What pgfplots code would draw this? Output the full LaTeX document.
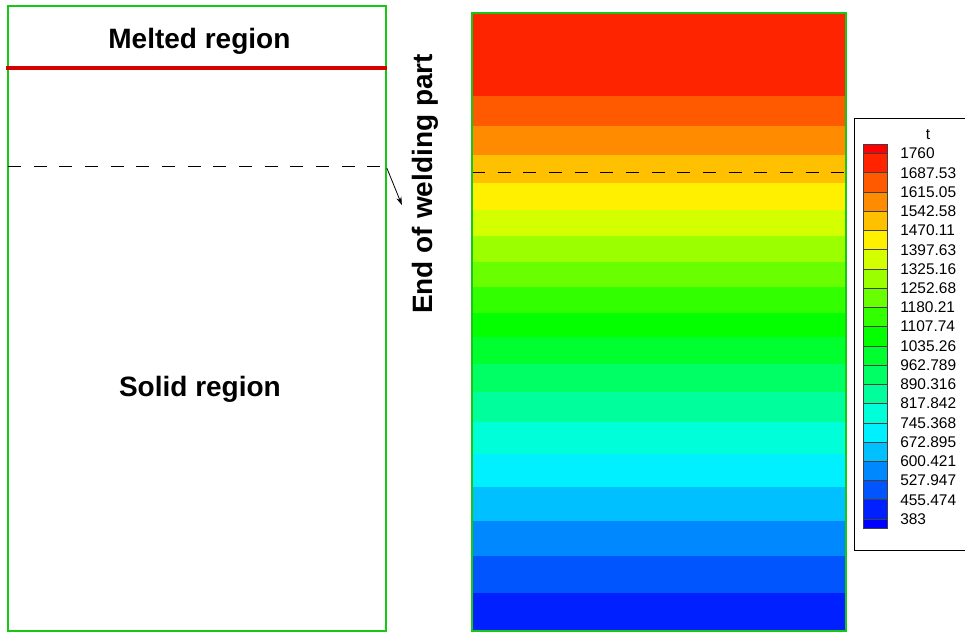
\documentclass[border=0pt]{standalone}
\usepackage{fontspec}
\setmainfont{Liberation Sans}
\usepackage{pgfplots}
\pgfplotsset{compat=1.18}
\usetikzlibrary{arrows.meta}
\definecolor{pgreen}{RGB}{20,200,20}
\definecolor{mred}{RGB}{214,0,0}
\begin{document}
\begin{tikzpicture}
\useasboundingbox (0pt,0pt) rectangle (723.75pt,-474.75pt);
% ---------------- left schematic panel ----------------
\begin{axis}[at={(6pt,-473.25pt)}, anchor=south west, scale only axis,
  width=283.4pt, height=469pt, xmin=0, xmax=1, ymin=0, ymax=1,
  xtick=\empty, ytick=\empty,
  axis line style={draw=none}, clip=false]
\draw[pgreen, line width=1.5pt] (rel axis cs:0,0) rectangle (rel axis cs:1,1);
\addplot[mred, line width=3pt] coordinates {(-0.004,0.9004) (1.004,0.9004)};
\addplot[black, line width=0.9pt, dash pattern=on 9.75pt off 9.5pt] coordinates {(0,0.7425) (1,0.7425)};
\draw[-{Stealth[length=6pt,width=4pt]}, line width=0.6pt] (axis cs:1.0026,0.7404) -- (axis cs:1.0423,0.6813);
\node[font=\fontsize{21pt}{25pt}\selectfont\bfseries, anchor=base, inner sep=0pt] at (axis cs:0.5066,0.9308) {Melted region};
\node[font=\fontsize{21pt}{25pt}\selectfont\bfseries, anchor=base, inner sep=0pt] at (axis cs:0.508,0.3747) {Solid region};
\node[font=\fontsize{21pt}{25pt}\selectfont\bfseries, rotate=90, anchor=base, inner sep=0pt] at (axis cs:1.1237,0.7149) {End of welding part};
\end{axis}
% ---------------- right contour panel ----------------
\begin{axis}[at={(354pt,-473.25pt)}, anchor=south west, scale only axis,
  width=280.2pt, height=463.7pt, xmin=0, xmax=1, ymin=0, ymax=618.3,
  xtick=\empty, ytick=\empty,
  axis line style={draw=none}, clip=false]
\addplot[fill={rgb,255:red,255;green,36;blue,0}, draw=none] coordinates {(0,618.3) (1,618.3)} \closedcycle;
\addplot[fill={rgb,255:red,255;green,90;blue,0}, draw=none] coordinates {(0,535) (1,535)} \closedcycle;
\addplot[fill={rgb,255:red,255;green,140;blue,0}, draw=none] coordinates {(0,505) (1,505)} \closedcycle;
\addplot[fill={rgb,255:red,255;green,192;blue,0}, draw=none] coordinates {(0,476) (1,476)} \closedcycle;
\addplot[fill={rgb,255:red,255;green,240;blue,0}, draw=none] coordinates {(0,448) (1,448)} \closedcycle;
\addplot[fill={rgb,255:red,212;green,255;blue,0}, draw=none] coordinates {(0,421) (1,421)} \closedcycle;
\addplot[fill={rgb,255:red,156;green,255;blue,0}, draw=none] coordinates {(0,395) (1,395)} \closedcycle;
\addplot[fill={rgb,255:red,106;green,255;blue,0}, draw=none] coordinates {(0,369) (1,369)} \closedcycle;
\addplot[fill={rgb,255:red,50;green,255;blue,0}, draw=none] coordinates {(0,344) (1,344)} \closedcycle;
\addplot[fill={rgb,255:red,4;green,255;blue,0}, draw=none] coordinates {(0,318) (1,318)} \closedcycle;
\addplot[fill={rgb,255:red,0;green,255;blue,46}, draw=none] coordinates {(0,294) (1,294)} \closedcycle;
\addplot[fill={rgb,255:red,0;green,255;blue,100}, draw=none] coordinates {(0,267) (1,267)} \closedcycle;
\addplot[fill={rgb,255:red,0;green,255;blue,156}, draw=none] coordinates {(0,239) (1,239)} \closedcycle;
\addplot[fill={rgb,255:red,0;green,255;blue,216}, draw=none] coordinates {(0,209) (1,209)} \closedcycle;
\addplot[fill={rgb,255:red,0;green,240;blue,255}, draw=none] coordinates {(0,177) (1,177)} \closedcycle;
\addplot[fill={rgb,255:red,0;green,192;blue,255}, draw=none] coordinates {(0,144) (1,144)} \closedcycle;
\addplot[fill={rgb,255:red,0;green,136;blue,255}, draw=none] coordinates {(0,110) (1,110)} \closedcycle;
\addplot[fill={rgb,255:red,0;green,85;blue,255}, draw=none] coordinates {(0,75) (1,75)} \closedcycle;
\addplot[fill={rgb,255:red,0;green,32;blue,255}, draw=none] coordinates {(0,38) (1,38)} \closedcycle;
\addplot[black, line width=0.9pt, dash pattern=on 9.75pt off 9.5pt] coordinates {(0,458.3) (1,458.3)};
\draw[pgreen, line width=1.4pt] (rel axis cs:0,0) rectangle (rel axis cs:1,1);
\end{axis}
% ---------------- colour legend ----------------
\draw[black, line width=0.6pt] (730pt,-88.7pt) -- (640.7pt,-88.7pt) -- (640.7pt,-412.5pt) -- (730pt,-412.5pt);
\node[font=\fontsize{11.6pt}{13pt}\selectfont] at (696pt,-101.25pt) {t};
\begin{axis}[at={(647.5pt,-396pt)}, anchor=south west, scale only axis,
  width=18pt, height=288pt, xmin=0, xmax=1, ymin=0, ymax=384,
  xtick=\empty, major tick length=0pt, tick style={draw=none},
  axis line style={draw=black!75, line width=0.5pt}, axis on top,
  yticklabel pos=right,
  ytick={374.5,355.26,336.02,316.78,297.54,278.3,259.06,239.82,220.58,201.34,182.1,162.86,143.62,124.38,105.14,85.9,66.66,47.42,28.18,8.94},
  yticklabels={1760,1687.53,1615.05,1542.58,1470.11,1397.63,1325.16,1252.68,1180.21,1107.74,1035.26,962.789,890.316,817.842,745.368,672.895,600.421,527.947,455.474,383},
  yticklabel style={anchor=west, inner xsep=0pt, xshift=9.5pt, font=\fontsize{11.6pt}{13pt}\selectfont}]
\addplot[fill={rgb,255:red,255;green,0;blue,0}, draw=black!75, line width=0.5pt] coordinates {(0,384) (1,384)} \closedcycle;
\addplot[fill={rgb,255:red,255;green,36;blue,0}, draw=black!75, line width=0.5pt] coordinates {(0,374.5) (1,374.5)} \closedcycle;
\addplot[fill={rgb,255:red,255;green,90;blue,0}, draw=black!75, line width=0.5pt] coordinates {(0,355.26) (1,355.26)} \closedcycle;
\addplot[fill={rgb,255:red,255;green,140;blue,0}, draw=black!75, line width=0.5pt] coordinates {(0,336.02) (1,336.02)} \closedcycle;
\addplot[fill={rgb,255:red,255;green,192;blue,0}, draw=black!75, line width=0.5pt] coordinates {(0,316.78) (1,316.78)} \closedcycle;
\addplot[fill={rgb,255:red,255;green,240;blue,0}, draw=black!75, line width=0.5pt] coordinates {(0,297.54) (1,297.54)} \closedcycle;
\addplot[fill={rgb,255:red,212;green,255;blue,0}, draw=black!75, line width=0.5pt] coordinates {(0,278.3) (1,278.3)} \closedcycle;
\addplot[fill={rgb,255:red,156;green,255;blue,0}, draw=black!75, line width=0.5pt] coordinates {(0,259.06) (1,259.06)} \closedcycle;
\addplot[fill={rgb,255:red,106;green,255;blue,0}, draw=black!75, line width=0.5pt] coordinates {(0,239.82) (1,239.82)} \closedcycle;
\addplot[fill={rgb,255:red,50;green,255;blue,0}, draw=black!75, line width=0.5pt] coordinates {(0,220.58) (1,220.58)} \closedcycle;
\addplot[fill={rgb,255:red,4;green,255;blue,0}, draw=black!75, line width=0.5pt] coordinates {(0,201.34) (1,201.34)} \closedcycle;
\addplot[fill={rgb,255:red,0;green,255;blue,46}, draw=black!75, line width=0.5pt] coordinates {(0,182.1) (1,182.1)} \closedcycle;
\addplot[fill={rgb,255:red,0;green,255;blue,100}, draw=black!75, line width=0.5pt] coordinates {(0,162.86) (1,162.86)} \closedcycle;
\addplot[fill={rgb,255:red,0;green,255;blue,156}, draw=black!75, line width=0.5pt] coordinates {(0,143.62) (1,143.62)} \closedcycle;
\addplot[fill={rgb,255:red,0;green,255;blue,216}, draw=black!75, line width=0.5pt] coordinates {(0,124.38) (1,124.38)} \closedcycle;
\addplot[fill={rgb,255:red,0;green,240;blue,255}, draw=black!75, line width=0.5pt] coordinates {(0,105.14) (1,105.14)} \closedcycle;
\addplot[fill={rgb,255:red,0;green,192;blue,255}, draw=black!75, line width=0.5pt] coordinates {(0,85.9) (1,85.9)} \closedcycle;
\addplot[fill={rgb,255:red,0;green,136;blue,255}, draw=black!75, line width=0.5pt] coordinates {(0,66.66) (1,66.66)} \closedcycle;
\addplot[fill={rgb,255:red,0;green,85;blue,255}, draw=black!75, line width=0.5pt] coordinates {(0,47.42) (1,47.42)} \closedcycle;
\addplot[fill={rgb,255:red,0;green,32;blue,255}, draw=black!75, line width=0.5pt] coordinates {(0,28.18) (1,28.18)} \closedcycle;
\addplot[fill={rgb,255:red,0;green,0;blue,255}, draw=black!75, line width=0.5pt] coordinates {(0,8.94) (1,8.94)} \closedcycle;
\end{axis}
\end{tikzpicture}
\end{document}
